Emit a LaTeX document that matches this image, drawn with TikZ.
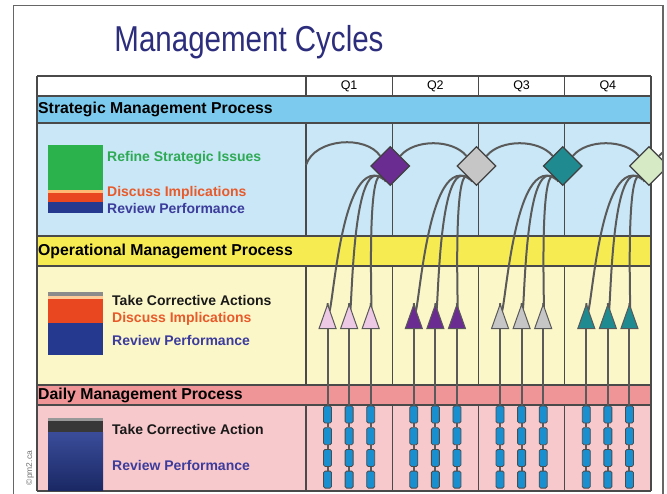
\documentclass[tikz,border=0pt]{standalone}
\usepackage{fontspec}
\setmainfont{Liberation Sans}
\newfontfamily\titlefont[FakeStretch=0.82]{Liberation Sans}
\usetikzlibrary{shapes.geometric}

\definecolor{titleblue}{HTML}{2D2D7D}
\definecolor{rulegray}{HTML}{4A4A4A}
\definecolor{wiregray}{HTML}{5A5A5A}
\definecolor{stratband}{HTML}{7CCBEE}
\definecolor{stratbody}{HTML}{C9E7F6}
\definecolor{operband}{HTML}{F6EC52}
\definecolor{operbody}{HTML}{FCF7C9}
\definecolor{dailyband}{HTML}{EF9597}
\definecolor{dailybody}{HTML}{F8C9CC}
\definecolor{refgreen}{HTML}{2BB24C}
\definecolor{discred}{HTML}{E8471F}
\definecolor{revnavy}{HTML}{25398F}
\definecolor{txtgreen}{HTML}{2EAA55}
\definecolor{txtorange}{HTML}{E85A2A}
\definecolor{txtnavy}{HTML}{3C3C9C}
\definecolor{qpink}{HTML}{EDC9E6}
\definecolor{qpurple}{HTML}{6B2C91}
\definecolor{qgray}{HTML}{C6C6C6}
\definecolor{qteal}{HTML}{1F8A8F}
\definecolor{qmint}{HTML}{D5EAC5}
\definecolor{slotblue}{HTML}{1A8FD0}

\pgfdeclarelayer{front}
\pgfsetlayers{main,front}

\tikzset{
  bandlbl/.style={anchor=west,inner sep=0pt,font=\fontsize{15.8}{17}\selectfont\bfseries},
  itemlbl/.style={anchor=west,inner sep=0pt,font=\fontsize{14}{16}\selectfont\bfseries},
  tablerule/.style={rulegray,line width=1.3pt},
  diam/.style={diamond,draw=black!75,line width=1.2pt,minimum size=39pt,inner sep=0pt},
  tri/.style={isosceles triangle,isosceles triangle stretches,shape border rotate=90,
    draw=black!65,line width=1pt,minimum width=17pt,minimum height=24pt,inner sep=0pt},
  slot/.style={rectangle,rounded corners=1.5pt,draw=black!70,line width=0.8pt,
    fill=slotblue,minimum width=8pt,minimum height=17pt,inner sep=0pt},
  wire/.style={wiregray,line width=2pt}
}

\begin{document}
\begin{tikzpicture}[x=1pt,y=-1pt]
      \useasboundingbox (0,0) rectangle (667,493);
      \node [font=\titlefont\fontsize{36}{40}\selectfont,text=titleblue] (title) at (249,42) {Management Cycles};
      % bands of the table
      \fill [white] (37,76) rectangle (651,96);
      \fill [stratband] (37,96) rectangle (651,123);
      \fill [stratbody] (37,123) rectangle (651,236);
      \fill [operband] (37,236) rectangle (651,266);
      \fill [operbody] (37,266) rectangle (651,385);
      \fill [dailyband] (37,385) rectangle (651,405);
      \fill [dailybody] (37,405) rectangle (651,491);
      \foreach \y in {76,96,123,236,266,385,405,491}
        \draw [tablerule] (37,\y) -- (651,\y);
      \foreach \x in {306,392.25,478.5,564.75}
        \draw [tablerule] (\x,76) -- (\x,96) (\x,123) -- (\x,236) (\x,266) -- (\x,385) (\x,405) -- (\x,491);
      \draw [tablerule] (37,76) -- (37,491) (651,76) -- (651,491);
      \foreach \q [count=\i from 0] in {Q1,Q2,Q3,Q4}
        \node [font=\fontsize{12.5}{14}\selectfont] (q\i) at (349.1+86.25*\i,86.5) {\q};
      \node [bandlbl] (strat) at (38,109.5) {Strategic Management Process};
      \node [bandlbl] (oper) at (38,251) {Operational Management Process};
      \node [bandlbl] (daily) at (38,395.5) {Daily Management Process};
      % legend bars
      \fill [refgreen] (48,145) rectangle (103,190);
      \fill [orange!55] (48,190) rectangle (103,193);
      \fill [discred] (48,193) rectangle (103,202);
      \fill [revnavy] (48,202) rectangle (103,213);
      \fill [black!45] (48,292) rectangle (103,296);
      \fill [orange!40] (48,296) rectangle (103,299);
      \fill [discred] (48,299) rectangle (103,323);
      \fill [revnavy] (48,323) rectangle (103,355);
      \fill [black!40] (48,418) rectangle (103,421);
      \fill [black!78] (48,421) rectangle (103,432);
      \shade [top color=revnavy!90!white,bottom color=revnavy!70!black] (48,432) rectangle (103,490);
      \node [itemlbl,text=txtgreen] (refine) at (107,158) {Refine Strategic Issues};
      \node [itemlbl,text=txtorange] (discs) at (107,193) {Discuss Implications};
      \node [itemlbl,text=txtnavy] (revs) at (107,208) {Review Performance};
      \node [itemlbl,text=black!90] (takeo) at (112,300) {Take Corrective Actions};
      \node [itemlbl,text=txtorange] (disco) at (112,319) {Discuss Implications};
      \node [itemlbl,text=txtnavy] (revo) at (112,340) {Review Performance};
      \node [itemlbl,text=black!90] (taked) at (112,429) {Take Corrective Action};
      \node [itemlbl,text=txtnavy] (revd) at (112,465) {Review Performance};
      \node [rotate=90,font=\fontsize{8.5}{9}\selectfont,text=black!55] (copy) at (30,468) {©pm2.ca};
      % diamonds, triangles and slots
      \begin{pgfonlayer}{front}
      \foreach \tc/\dc [count=\i from 0] in {qpink/qpurple,qpurple/qgray,qgray/qteal,qteal/qmint}{
        \node [diam,fill=\dc] (d\i) at (390.25+86.25*\i,166) {};
        \foreach \k in {1,2,3}{
          \node [tri,fill=\tc] (t\i\k) at (306+86.25*\i+21.5625*\k,322.5) {};
          \foreach \m in {1,...,4}
            \node [slot] (s\i\k\m) at (306+86.25*\i+21.5625*\k,392.8+21.7*\m) {};
        }
      }
      \end{pgfonlayer}
      % cycle arcs
      \coordinate (a0) at (306,165);
      \coordinate (a4) at (736,156);
      \draw [wire] (a0) .. controls (315,138) and (366,135) .. (d0.north west);
      \foreach \i [count=\j from 1] in {0,1,2}
        \draw [wire] (d\i.north east) .. controls +(14,-17) and +(-14,-17) .. (d\j.north west);
      \draw [wire] (d3.north east) .. controls +(14,-17) and +(-14,-17) .. (a4);
      % feeds from triangles
      \foreach \i in {0,1,2,3}
        \foreach \k/\a/\n in {1/236/150,2/245/135,3/254/118}{
          \draw [wire] (t\i\k.apex) to [out=-86,in=\n] (d\i.\a);
          \draw [wire] (t\i\k.south) -- (s\i\k1.north);
          \foreach \m [count=\p from 2] in {1,2,3}
            \draw [wire] (s\i\k\m.south) -- (s\i\k\p.north);
        }
      % frame
      \begin{pgfonlayer}{front}
      \fill [white] (663,0) rectangle (667,493);
      \draw [black!60,line width=1.5pt] (13.5,5.5) rectangle (663,500);
      \end{pgfonlayer}
    \end{tikzpicture}
\end{document}
